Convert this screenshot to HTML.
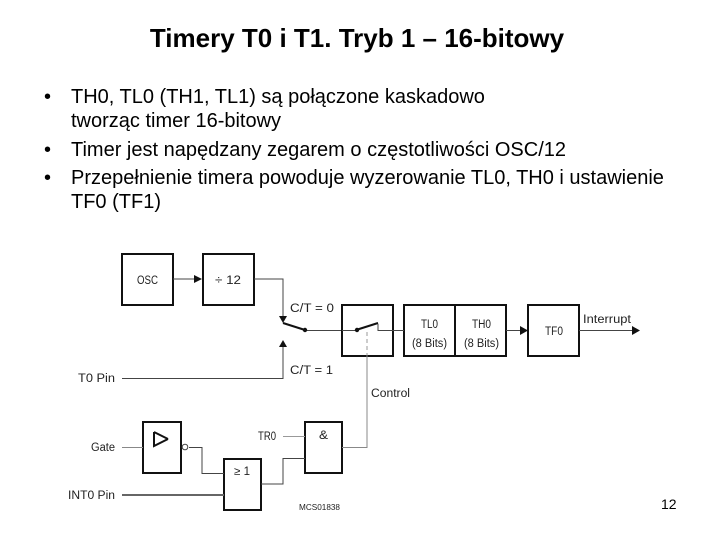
<!DOCTYPE html>
<html>
<head>
<meta charset="utf-8">
<style>
html,body{margin:0;padding:0;background:#fff}
body{position:relative;width:720px;height:540px;overflow:hidden;font-family:"Liberation Sans",sans-serif;color:#000}
.t{position:absolute;white-space:nowrap}
#title{left:0;width:714px;top:23px;text-align:center;font-weight:bold;font-size:26px;line-height:30px}
.b{font-size:20px;line-height:24px}
svg{position:absolute;left:0;top:0;filter:blur(0.3px)}
svg text{font-family:"Liberation Sans",sans-serif;fill:#222}
</style>
</head>
<body>
<div class="t" id="title">Timery T0 i T1. Tryb 1 – 16-bitowy</div>
<div class="t b" style="left:44px;top:85px">•</div>
<div class="t b" style="left:71px;top:85px">TH0, TL0 (TH1, TL1) są połączone kaskadowo</div>
<div class="t b" style="left:71px;top:109px">tworząc timer 16-bitowy</div>
<div class="t b" style="left:44px;top:138px">•</div>
<div class="t b" style="left:71px;top:138px">Timer jest napędzany zegarem o częstotliwości OSC/12</div>
<div class="t b" style="left:44px;top:166px">•</div>
<div class="t b" style="left:71px;top:166px">Przepełnienie timera powoduje wyzerowanie TL0, TH0 i ustawienie</div>
<div class="t b" style="left:71px;top:190px">TF0 (TF1)</div>
<svg width="720" height="540" viewBox="0 0 720 540">
<g fill="none" stroke="#111" stroke-width="2">
<rect x="122" y="254" width="51" height="51"/>
<rect x="203" y="254" width="51" height="51"/>
<rect x="342" y="305" width="51" height="51"/>
<rect x="404" y="305" width="102" height="51"/>
<line x1="455" y1="305" x2="455" y2="356"/>
<rect x="528" y="305" width="51" height="51"/>
<rect x="143" y="422" width="38" height="51"/>
<rect x="224" y="459" width="37" height="51"/>
<rect x="305" y="422" width="37" height="51"/>
<polyline points="154,432 154,446 168,439"/>
<line x1="154" y1="432" x2="168" y2="439"/>
<line x1="283" y1="323" x2="305" y2="330"/>
<line x1="356" y1="330" x2="378" y2="323"/>
</g>
<g fill="none" stroke="#444" stroke-width="1">
<path d="M173 279H195"/>
<path d="M254 279H283V316"/>
<path d="M122 378.500H283V347"/>
<path d="M305 330.500H341"/>
<path d="M342 330.500H357"/>
<path d="M378 324V330.500H404"/>
<path d="M506 330.500H520"/>
<path d="M579 330.500H632"/>
<path d="M367 332V355" stroke-dasharray="4 3" stroke="#999"/>
<path d="M367 355V447.500H342" stroke="#888"/>
<path d="M122 447.500H143" stroke="#888"/>
<path d="M189 447.500H202V473.500H224"/>
<path d="M122 495H224" stroke-width="2" stroke="#666"/>
<path d="M261 484H283V458.500H305"/>
<path d="M283 436.500H305" stroke="#999"/>
</g>
<circle cx="185" cy="447" r="2.800" fill="#fff" stroke="#444"/>
<g fill="#111">
<path d="M194 275L202 279L194 283Z"/>
<path d="M279 316H287L283 323Z"/>
<path d="M279 347H287L283 340Z"/>
<path d="M520 326L528 330.500L520 335Z"/>
<path d="M632 326L640 330.500L632 335Z"/>
<circle cx="305" cy="330" r="2.200"/>
<circle cx="357" cy="330" r="2.200"/>
</g>
<g font-size="11.500">
<text x="137" y="284" textLength="21" lengthAdjust="spacingAndGlyphs">OSC</text>
<text x="215" y="284" textLength="26" lengthAdjust="spacingAndGlyphs">÷ 12</text>
<text x="290" y="312" textLength="44" lengthAdjust="spacingAndGlyphs">C/T = 0</text>
<text x="290" y="374" textLength="43" lengthAdjust="spacingAndGlyphs">C/T = 1</text>
<text x="421" y="328" textLength="17" lengthAdjust="spacingAndGlyphs">TL0</text>
<text x="472" y="328" textLength="19" lengthAdjust="spacingAndGlyphs">TH0</text>
<text x="412" y="347" textLength="35" lengthAdjust="spacingAndGlyphs">(8 Bits)</text>
<text x="464" y="347" textLength="35" lengthAdjust="spacingAndGlyphs">(8 Bits)</text>
<text x="545" y="335" textLength="18" lengthAdjust="spacingAndGlyphs">TF0</text>
<text x="583" y="323" textLength="48" lengthAdjust="spacingAndGlyphs">Interrupt</text>
<text x="371" y="397" textLength="39" lengthAdjust="spacingAndGlyphs">Control</text>
<text x="78" y="382" textLength="37" lengthAdjust="spacingAndGlyphs">T0 Pin</text>
<text x="91" y="451" textLength="24" lengthAdjust="spacingAndGlyphs">Gate</text>
<text x="68" y="499" textLength="47" lengthAdjust="spacingAndGlyphs">INT0 Pin</text>
<text x="258" y="440" textLength="18" lengthAdjust="spacingAndGlyphs">TR0</text>
<text x="319" y="439" textLength="9" lengthAdjust="spacingAndGlyphs">&amp;</text>
<text x="234" y="475" textLength="16" lengthAdjust="spacingAndGlyphs">≥ 1</text>
<text x="299" y="510" font-size="8.500" textLength="41" lengthAdjust="spacingAndGlyphs">MCS01838</text>
</g>
</svg>
<div class="t" style="left:661px;top:496px;font-size:14px;line-height:16px">12</div>
</body>
</html>
